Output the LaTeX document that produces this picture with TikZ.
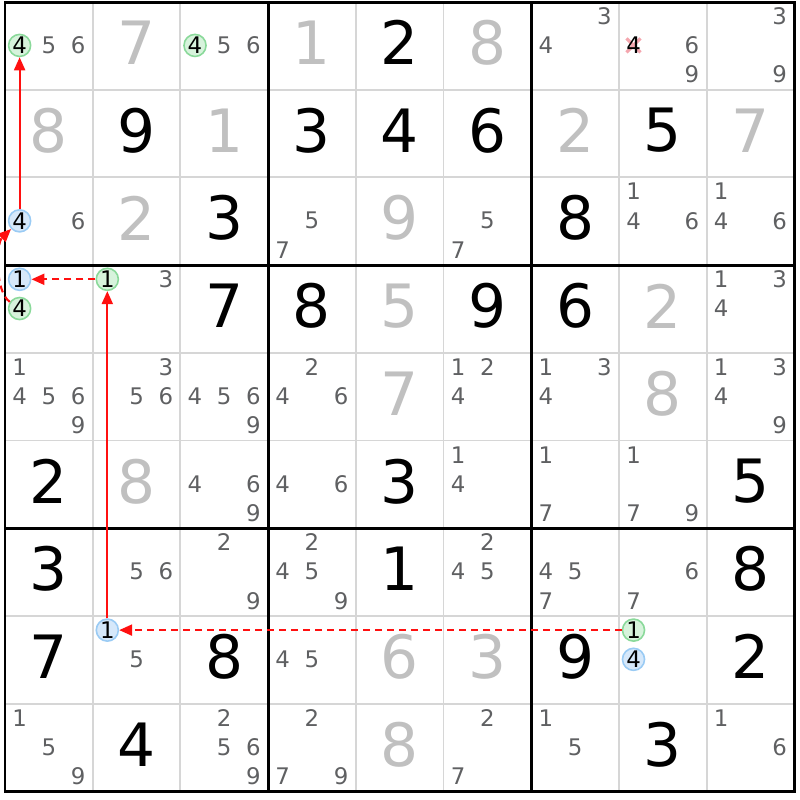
\documentclass[tikz,border=0pt]{standalone}
\usepackage{fontspec}
\setmainfont{DejaVu Sans}
\usetikzlibrary{arrows.meta}
\definecolor{solvedgray}{HTML}{C0C0C0}
\definecolor{candgray}{HTML}{5F6062}
\definecolor{thingray}{HTML}{D6D6D6}
\definecolor{greenring}{HTML}{8AD99A}
\definecolor{greenfill}{HTML}{D7F3DC}
\definecolor{bluering}{HTML}{9ACBF4}
\definecolor{bluefill}{HTML}{D6E8FA}
\definecolor{crosspink}{HTML}{F4A6AE}
\definecolor{chainred}{HTML}{FF1010}

\begin{document}
\begin{tikzpicture}[x=0.877cm, y=-0.877cm, >={Triangle[length=1.3mm,width=1.1mm]},
  given/.style={inner sep=0pt, font=\fontsize{17}{17}\selectfont},
  solved/.style={given, text=solvedgray},
  cand/.style={inner sep=0pt, text=candgray, font=\fontsize{6.5}{6.5}\selectfont},
  gmark/.style={circle, inner sep=0pt, minimum size=2.2mm, line width=0.45pt, draw=greenring, fill=greenfill, font=\fontsize{6.5}{6.5}\selectfont},
  bmark/.style={gmark, draw=bluering, fill=bluefill},
  strong/.style={->, draw=chainred, line width=0.6pt},
  weak/.style={strong, dash pattern=on 0.7mm off 0.5mm}]
  \useasboundingbox (-0.057,-0.023) rectangle (9.065,9.099);
  \foreach \i in {1,2,4,5,7,8}
    \draw[thingray, line width=0.55pt] (\i,0) -- (\i,9) (0,\i) -- (9,\i);
  \foreach \i in {3,6}
    \draw[line width=0.85pt] (\i,0) -- (\i,9) (0,\i) -- (9,\i);
  \draw[line width=0.85pt] (0,0) rectangle (9,9);

  \foreach \r/\c/\d in {0/4/2, 1/1/9, 1/3/3, 1/4/4, 1/5/6, 1/7/5, 2/2/3, 2/6/8,
      3/2/7, 3/3/8, 3/5/9, 3/6/6, 5/0/2, 5/4/3, 5/8/5, 6/0/3, 6/4/1, 6/8/8,
      7/0/7, 7/2/8, 7/6/9, 7/8/2, 8/1/4, 8/7/3}
    \node[given] (g-\r-\c) at (\c+.5,\r+.465) {\d};
  \foreach \r/\c/\d in {0/1/7, 0/3/1, 0/5/8, 1/0/8, 1/2/1, 1/6/2, 1/8/7, 2/1/2,
      2/4/9, 3/4/5, 3/7/2, 4/4/7, 4/7/8, 5/1/8, 7/4/6, 7/5/3, 8/4/8}
    \node[solved] (s-\r-\c) at (\c+.5,\r+.465) {\d};

  \foreach \r/\c/\ds in {0/0/{5,6}, 0/2/{5,6}, 0/6/{3,4}, 0/7/{6,9}, 0/8/{3,9},
      2/0/{6}, 2/3/{5,7}, 2/5/{5,7}, 2/7/{1,4,6}, 2/8/{1,4,6},
      3/1/{3}, 3/8/{1,3,4},
      4/0/{1,4,5,6,9}, 4/1/{3,5,6}, 4/2/{4,5,6,9}, 4/3/{2,4,6}, 4/5/{1,2,4},
      4/6/{1,3,4}, 4/8/{1,3,4,9},
      5/2/{4,6,9}, 5/3/{4,6}, 5/5/{1,4}, 5/6/{1,7}, 5/7/{1,7,9},
      6/1/{5,6}, 6/2/{2,9}, 6/3/{2,4,5,9}, 6/5/{2,4,5}, 6/6/{4,5,7}, 6/7/{6,7},
      7/1/{5}, 7/3/{4,5},
      8/0/{1,5,9}, 8/2/{2,5,6,9}, 8/3/{2,7,9}, 8/5/{2,7}, 8/6/{1,5}, 8/8/{1,6}}
    \foreach \d in \ds {
      \pgfmathsetmacro\cx{\c+(mod(\d-1,3)+.5)/3}
      \pgfmathsetmacro\cy{\r+(int((\d-1)/3)+.5)/3-.005}
      \node[cand] (k-\r-\c-\d) at (\cx,\cy) {\d};
    }

  \foreach \r/\c/\d/\s in {0/0/4/gmark, 0/2/4/gmark, 2/0/4/bmark, 3/0/1/bmark,
      3/0/4/gmark, 3/1/1/gmark, 7/1/1/bmark, 7/7/1/gmark, 7/7/4/bmark} {
    \pgfmathsetmacro\cx{\c+(mod(\d-1,3)+.5)/3}
    \pgfmathsetmacro\cy{\r+(int((\d-1)/3)+.5)/3-.005}
    \node[\s] (m-\r-\c-\d) at (\cx,\cy) {\d};
  }

  \coordinate (x-0-7) at (7.1667,0.495);
  \draw[crosspink, line width=0.9pt] ([shift={(-.08,-.08)}]x-0-7) -- ([shift={(.08,.08)}]x-0-7)
    ([shift={(-.08,.08)}]x-0-7) -- ([shift={(.08,-.08)}]x-0-7);
  \node[cand, text=black] (k-0-7-4) at (x-0-7) {4};

  \draw[strong] (m-2-0-4) -- (m-0-0-4);
  \draw[weak] (m-3-0-4) .. controls (-0.12,3.3) and (-0.1,2.75) .. (m-2-0-4);
  \draw[weak] (m-3-1-1) -- (m-3-0-1);
  \draw[strong] (m-7-1-1) -- (m-3-1-1);
  \draw[weak] (m-7-7-1) -- (m-7-1-1);
\end{tikzpicture}
\end{document}
